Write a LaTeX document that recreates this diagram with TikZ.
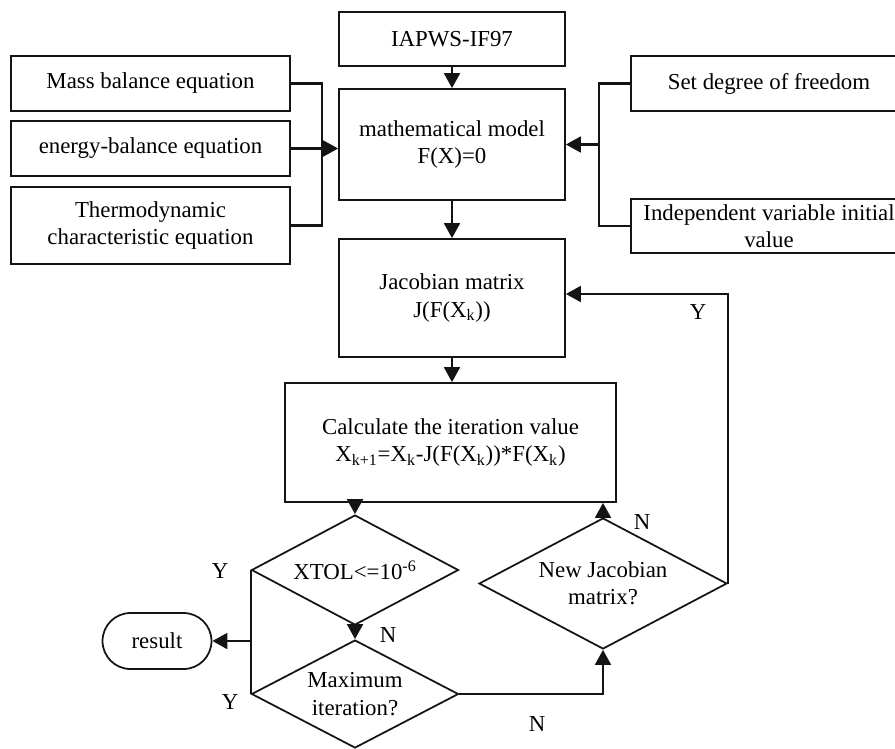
\documentclass[tikz,border=0pt]{standalone}
\usepackage{fontspec}
\setmainfont{Liberation Serif}
\usepackage{tikz}
\usetikzlibrary{positioning,arrows.meta,calc,shapes.geometric}
\definecolor{fcLine}{RGB}{20,20,20}
\tikzset{
    base/.style={font=\fontsize{13}{15.5}\selectfont, align=center, text=black},
    process/.style={base, rectangle, draw=fcLine, line width=1pt, inner sep=0pt},
    decision/.style={base, diamond, aspect=1.9, draw=fcLine, line width=1pt, inner sep=0pt},
    terminal/.style={base, rectangle, rounded corners=0.56cm, draw=fcLine, line width=1pt,
                     minimum width=2.18cm, minimum height=1.12cm},
    flow/.style={-{Triangle[length=8.5pt,width=9pt]}, line width=1.25pt, color=fcLine},
    wire/.style={line width=1.25pt, color=fcLine},
    answer/.style={base, inner sep=1pt}
}

\begin{document}
\begin{tikzpicture}[x=0.02cm, y=-0.02cm]
  \useasboundingbox (0,0) rectangle (895,748);

  % model building
  \node[process, minimum width=4.52cm, minimum height=1.08cm] (iapws) at (452,39) {IAPWS-IF97};
  \node[process, minimum width=4.52cm, minimum height=2.22cm] (model) at (452,144.5) {mathematical model\\F(X)=0};

  % equations on the left
  \node[process, minimum width=5.58cm, minimum height=1.1cm] (mass) at (150.5,83.5) {Mass balance equation};
  \node[process, minimum width=5.58cm, minimum height=1.1cm] (energy) at (150.5,148.5) {energy-balance equation};
  \node[process, minimum width=5.58cm, minimum height=1.54cm] (thermo) at (150.5,225.5) {Thermodynamic\\characteristic equation};
  \coordinate (lbus) at (322,0);

  % inputs on the right
  \node[process, minimum width=5.52cm, minimum height=1.1cm] (freedom) at (769,83.5) {Set degree of freedom};
  \node[process, minimum width=5.52cm, minimum height=1.08cm] (indep) at (769,226) {Independent variable initial\\value};
  \coordinate (rbus) at (599,0);

  % Newton iteration
  \node[process, minimum width=4.52cm, minimum height=2.36cm] (jacobian) at (452,298) {Jacobian matrix\\J(F(X\textsubscript{k}))};
  \node[process, minimum width=6.62cm, minimum height=2.38cm] (calc) at (450.5,442.5)
    {Calculate the iteration value\\X\textsubscript{k+1}=X\textsubscript{k}-J(F(X\textsubscript{k}))*F(X\textsubscript{k})};
  \node[decision, aspect=1.88, minimum width=4.14cm, minimum height=2.2cm] (xtol) at (355,570) {XTOL<=10\textsuperscript{-6}};
  \node[decision, aspect=1.92, minimum width=4.14cm, minimum height=2.16cm] (maxit) at (355,694) {Maximum\\iteration?};
  \node[decision, aspect=1.89, minimum width=4.96cm, minimum height=2.62cm] (newjac) at (603,583.5) {New Jacobian\\matrix?};
  \node[terminal] (result) at (157,641) {result};

  % branch labels
  \node[answer] (xtolY) at (220,571) {Y};
  \node[answer] (maxitY) at (230,702) {Y};
  \node[answer] (xtolN) at (388,635) {N};
  \node[answer] (maxitN) at (537,724) {N};
  \node[answer] (newjacN) at (642,522) {N};
  \node[answer] (newjacY) at (698,312) {Y};

  % connectors
  \draw[flow] (iapws) -- (model);
  \draw[wire] (mass.east) -- (mass.east -| lbus) |- (thermo.east);
  \draw[flow] (energy.east) -- (model.west |- energy.east);
  \draw[wire] (freedom.west) -- (freedom.west -| rbus) |- (indep.west);
  \draw[flow] (rbus |- model.east) -- (model.east);
  \draw[flow] (model) -- (jacobian);
  \draw[flow] (jacobian) -- (jacobian.south |- calc.north);
  \draw[flow] (xtol.north |- calc.south) -- (xtol.north);
  \draw[flow] (xtol.south) -- (maxit.north);
  \draw[wire] (xtol.west) -- (maxit.west);
  \draw[flow] (result.east -| xtol.west) -- (result.east);
  \draw[flow] (maxit.east) -| (newjac.south);
  \draw[flow] (newjac.north) -- (newjac.north |- calc.south);
  \draw[flow] (newjac.east) |- ([yshift=0.08cm]jacobian.east);
\end{tikzpicture}
\end{document}
